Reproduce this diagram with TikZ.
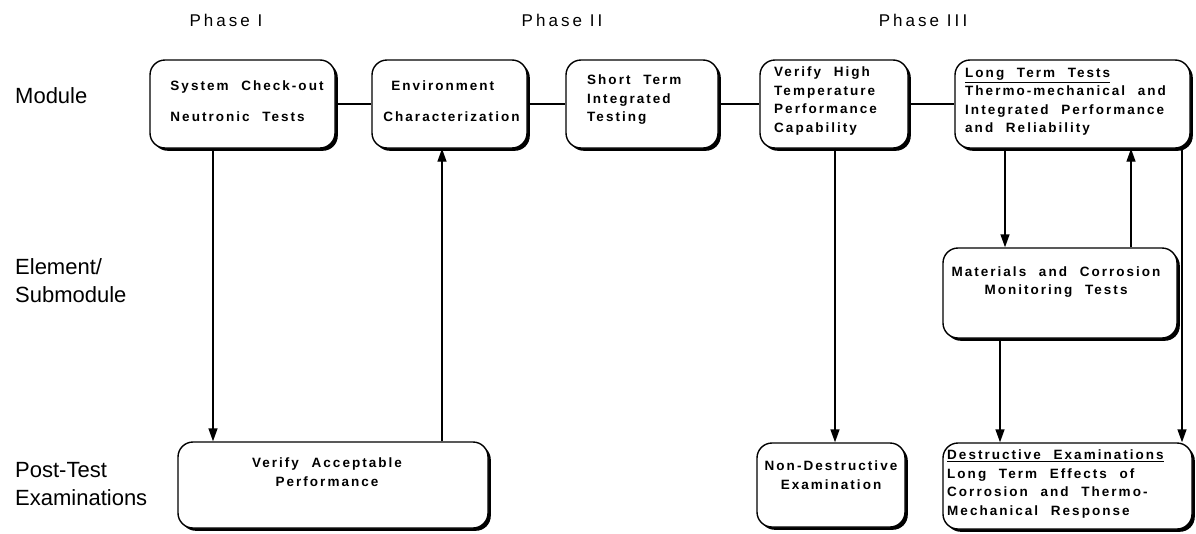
\documentclass[tikz,border=0pt]{standalone}
\usepackage{fontspec}
\setmainfont{Liberation Sans}
\newfontfamily\boxfont{Liberation Sans}[LetterSpace=15,WordSpace=2.2]
\newfontfamily\phasefont{Liberation Sans}[LetterSpace=18]
\usetikzlibrary{arrows.meta,shadows,calc}
\begin{document}
\begin{tikzpicture}[x=1pt,y=-1pt,
 bx/.style={draw, line width=1.4pt, rounded corners=15pt, fill=white,
   drop shadow={shadow xshift=2.8pt,shadow yshift=-2.8pt,opacity=1,fill=black}},
 bt/.style={font=\boxfont\bfseries\fontsize{13.5}{18.5}\selectfont, inner sep=0pt},
 rowlab/.style={font=\fontsize{22}{28}\selectfont, align=left, anchor=west, inner sep=0pt},
 phase/.style={font=\phasefont\fontsize{17}{20}\selectfont, inner sep=0pt},
 link/.style={line width=1.4pt},
 arr/.style={line width=1.4pt, -{Triangle[length=13pt,width=9pt]}},
]
\fill[white] (0,0) rectangle (1196,533);
\useasboundingbox (0,0) rectangle (1196,533);

% phase labels
\node[phase] (p1) at (226,20) {Phase I};
\node[phase] (p2) at (562,20) {Phase II};
\node[phase] (p3) at (923,20) {Phase III};

% row labels
\node[rowlab] (r1) at (15,96) {Module};
\node[rowlab] (r2) at (15,281) {Element/\\Submodule};
\node[rowlab] (r3) at (15,484) {Post-Test\\Examinations};

% boxes
\node[bx, minimum width=185pt, minimum height=88pt] (b1) at (242.5,104) {};
\node[bx, minimum width=155pt, minimum height=88pt] (b2) at (449.5,104) {};
\node[bx, minimum width=152pt, minimum height=88pt] (b3) at (642,104) {};
\node[bx, minimum width=148pt, minimum height=88pt] (b4) at (834,104) {};
\node[bx, minimum width=235pt, minimum height=88pt] (b5) at (1072.5,104) {};
\node[bx, minimum width=234pt, minimum height=90pt] (mt) at (1060,293) {};
\node[bx, minimum width=310pt, minimum height=86pt] (b6) at (333,485) {};
\node[bx, minimum width=148pt, minimum height=84pt] (b7) at (831,485) {};
\node[bx, minimum width=249pt, minimum height=86pt] (b8) at (1067.5,486) {};

% box texts
\node[bt, align=left] (b1t) at (247,101) {System Check-out\\[13pt]Neutronic Tests};
\node[bt, align=left] (b2t) at (451.5,101) {\hspace*{8pt}Environment\\[13pt]Characterization};
\node[bt, align=left, anchor=west] (b3t) at (587,100) {Short Term\\Integrated\\Testing};
\node[bt, align=left, anchor=west] (b4t) at (774,101) {Verify High\\Temperature\\Performance\\Capability};
\node[bt, align=left, anchor=west] (b5t) at (965,102) {\underline{Long Term Tests}\\Thermo-mechanical and\\Integrated Performance\\and Reliability};
\node[bt, align=center] (mtt) at (1056,282) {Materials and Corrosion\\Monitoring Tests};
\node[bt, align=center] (b6t) at (327,472) {Verify Acceptable\\Performance};
\node[bt, align=center] (b7t) at (831,475) {Non-Destructive\\Examination};
\node[bt, align=left, anchor=west] (b8t) at (947,484) {\underline{Destructive Examinations}\\Long Term Effects of\\Corrosion and Thermo-\\Mechanical Response};

% horizontal links
\draw[link] (b1.east) -- (b2.west);
\draw[link] (b2.east) -- (b3.west);
\draw[link] (b3.east) -- (b4.west);
\draw[link] (b4.east) -- (b5.west);

% vertical arrows
\draw[arr] (213,0 |- b1.south) -- (213,0 |- b6.north);
\draw[arr] (442,0 |- b6.north) -- (442,0 |- b2.south);
\draw[arr] (835,0 |- b4.south) -- (835,0 |- b7.north);
\draw[arr] (1005,0 |- b5.south) -- (1005,0 |- mt.north);
\draw[arr] (1131,0 |- mt.north) -- (1131,0 |- b5.south);
\draw[arr] (1000,0 |- mt.south) -- (1000,0 |- b8.north);
\draw[arr] (1182,0 |- b5.south) -- (1182,0 |- b8.north);
\end{tikzpicture}
\end{document}
